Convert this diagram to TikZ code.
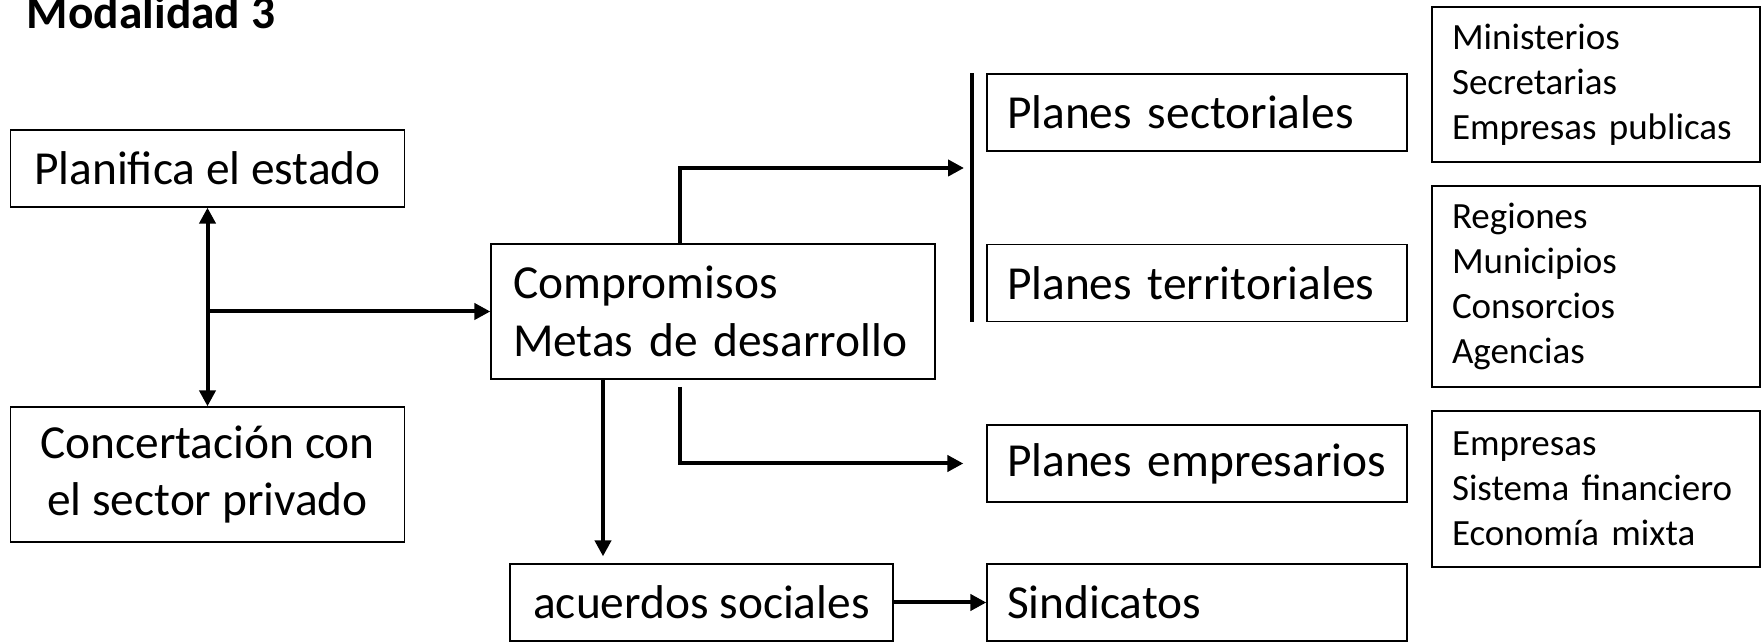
\documentclass[tikz,border=0pt]{standalone}
\usepackage{fontspec}
\setmainfont{Carlito}
\usepackage{tikz}
\usetikzlibrary{arrows.meta, positioning}

\begin{document}
\begin{tikzpicture}[x = 1pt, y = 1pt, >={Triangle[length=16pt, width=16pt]}, line width = 4pt]
  \tikzstyle{box}      = [draw, line width = 1.3pt, inner xsep = 20pt, inner ysep = 0pt,
                          font = \fontsize{47.4}{57.8}\selectfont]
  \tikzstyle{plan box} = [box, text width = 380pt, minimum height = 77pt, align = left]
  \tikzstyle{list box} = [box, text width = 288pt, align = left,
                          font = \fontsize{37}{45}\selectfont]
  \useasboundingbox (0,0) rectangle (1761,642);

  \node[anchor = base west, inner sep = 0pt, font = \fontsize{47.4}{57.8}\selectfont\bfseries] (title) at (25,613.7) {Modalidad 3};

  \node[box, minimum width = 394pt, minimum height = 77pt]                (plan) at (207.5,473.5) {Planifica el estado};
  \node[box, minimum width = 394pt, minimum height = 135pt, align = center] (conc) at (207.5,167.5) {Concertación con\\el sector privado};
  \node[box, text width = 400pt, inner xsep = 22pt, minimum height = 135pt, align = left] (comp) at (713,330.5) {Compromisos\\Metas de desarrollo};
  \node[box, minimum width = 383pt, minimum height = 77pt]                (acue) at (701.5,39.5) {acuerdos sociales};

  \node[plan box] (sect)                                     at (1197,529.5) {Planes sectoriales};
  \node[plan box] (terr) [below of = sect, node distance = 170.5pt]         {Planes territoriales};
  \node[plan box] (empr)                                     at (1197,178.5) {Planes empresarios};
  \node[plan box] (sind) [below of = empr, node distance = 139pt]           {Sindicatos};

  \node[list box, minimum height = 155pt] (minis) at (1596,557.5) {Ministerios\\Secretarias\\Empresas publicas};
  \node[list box, minimum height = 201pt] (regio) at (1596,355.5) {Regiones\\Municipios\\Consorcios\\Agencias};
  \node[list box, minimum height = 156pt] (empre) at (1596,153)   {Empresas\\Sistema financiero\\Economía mixta};

  \coordinate (fork)  at (680,255);
  \coordinate (down)  at (603,0);
  \coordinate (sectin) at (964,474);

  \draw[<->] (plan) -- (conc);
  \draw[->]  (plan.south |- comp.west) -- (comp.west);
  \draw[->]  (comp.north -| fork) |- (sectin);
  \draw[->]  (fork) |- ([xshift = -23pt]empr.west);
  \draw[->, shorten >= 7pt] (comp.south -| down) -- (acue.north -| down);
  \draw[->]  (acue) -- (sind);
  \draw ([xshift = -14pt]sect.north west) -- ([xshift = -14pt]terr.south west);

\end{tikzpicture}
\end{document}
